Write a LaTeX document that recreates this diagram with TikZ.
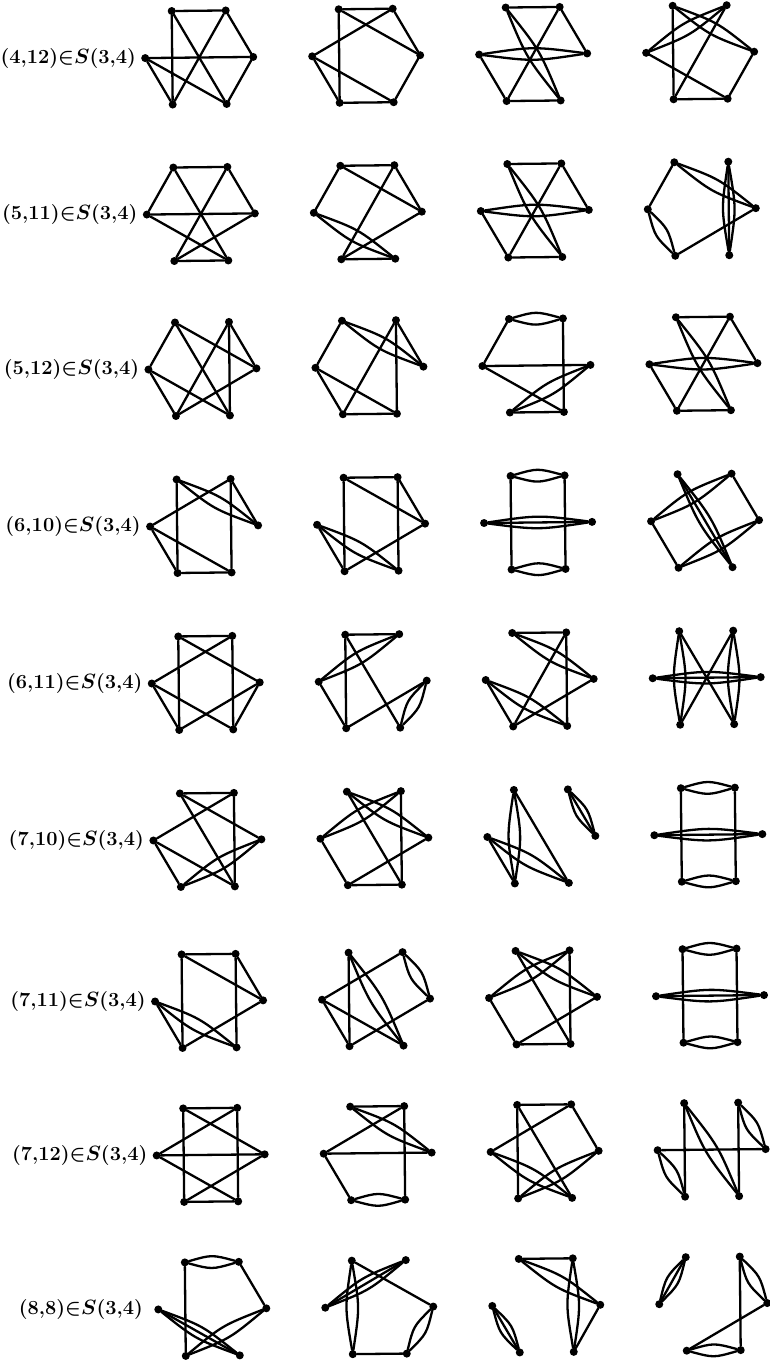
\documentclass[tikz,border=0pt]{standalone}
\usepackage{fontspec}
\usetikzlibrary{calc, positioning}

% corners of one hexagon: a top left, then clockwise b, c, d, e, f
\newcommand{\hexverts}[3]{%
  \foreach \vx/\ang in {a/120,b/60,c/0,d/-60,e/-120,f/180}
    \node[vtx] (#1\vx) at ($(#2,#3)+(\ang:54)$) {};}
% single edges, double edges (lens), triple edges (lens and line)
\newcommand{\plain}[2]{\foreach \p/\q in {#2} \draw[edge] (#1\p) -- (#1\q);}
\newcommand{\dbl}[3]{%
  \draw[edge] (#1#2) .. controls ($(#1#2)!0.5!(#1#3)!7.5pt!90:(#1#3)$) .. (#1#3);
  \draw[edge] (#1#2) .. controls ($(#1#2)!0.5!(#1#3)!7.5pt!-90:(#1#3)$) .. (#1#3);}
\newcommand{\tpl}[3]{\dbl{#1}{#2}{#3}\draw[edge] (#1#2) -- (#1#3);}

\begin{document}
\begin{tikzpicture}[
    x=1pt, y=1pt,
    vtx/.style={circle, fill=black, inner sep=0pt, minimum size=8pt},
    edge/.style={line width=2.3pt, line cap=round},
    lbl/.style={font=\fontsize{20}{24}\selectfont\boldmath\bfseries, inner sep=0pt}
]
\useasboundingbox (0,0) rectangle (769,-1363);

\begin{scope}[rotate around={0.6:(199.2,-57.5)}]

% Nodes
\foreach \rowy [count=\row] in {57.5,214,369,526,683,840,1001,1155,1309} {
  \foreach \col in {1,...,4} {
    \pgfmathsetmacro{\gx}{199.2+167*(\col-1)}
    \hexverts{r\row c\col}{\gx}{-\rowy}
  }
}

% Row labels
\node[lbl, left=5pt of r1c1f] (lab1) {(4,12)${\in}S$(3,4)};
\node[lbl, left=5pt of r2c1f] (lab2) {(5,11)${\in}S$(3,4)};
\node[lbl, left=5pt of r3c1f] (lab3) {(5,12)${\in}S$(3,4)};
\node[lbl, left=5pt of r4c1f] (lab4) {(6,10)${\in}S$(3,4)};
\node[lbl, left=5pt of r5c1f] (lab5) {(6,11)${\in}S$(3,4)};
\node[lbl, left=5pt of r6c1f] (lab6) {(7,10)${\in}S$(3,4)};
\node[lbl, left=5pt of r7c1f] (lab7) {(7,11)${\in}S$(3,4)};
\node[lbl, left=5pt of r8c1f] (lab8) {(7,12)${\in}S$(3,4)};
\node[lbl, left=11pt of r9c1f] (lab9) {(8,8)${\in}S$(3,4)};

% Edges, row (4,12)
\plain{r1c1}{a/b,a/e,a/d,b/c,b/e,f/c,f/e,f/d,c/d}
\plain{r1c2}{a/b,a/e,a/c,b/f,b/c,f/e,f/d,e/d,c/d}
\plain{r1c3}{a/b,e/d,b/c,f/e,b/e} \dbl{r1c3}{f}{c} \dbl{r1c3}{a}{d}
\plain{r1c4}{a/e,b/e,f/d,c/d,e/d} \dbl{r1c4}{a}{c} \dbl{r1c4}{b}{f}

% Edges, row (5,11)
\plain{r2c1}{a/b,a/f,b/c,f/c,a/d,b/e,f/d,c/e,e/d}
\plain{r2c2}{a/b,a/f,a/c,b/c,b/e,e/d,c/e} \dbl{r2c2}{f}{d}
\plain{r2c3}{a/b,e/d,b/c,f/e,b/e} \dbl{r2c3}{f}{c} \dbl{r2c3}{a}{d}
\plain{r2c4}{a/f,e/c} \dbl{r2c4}{a}{c} \dbl{r2c4}{f}{e} \tpl{r2c4}{b}{d}

% Edges, row (5,12)
\plain{r3c1}{a/f,a/c,a/d,b/e,b/d,b/c,f/d,f/e,e/c}
\plain{r3c2}{a/f,b/c,b/d,b/e,f/d,f/e,e/d} \dbl{r3c2}{a}{c}
\plain{r3c3}{a/f,b/d,f/c,f/d,e/d} \dbl{r3c3}{a}{b} \dbl{r3c3}{c}{e}
\plain{r3c4}{a/b,e/d,b/c,f/e,b/e} \dbl{r3c4}{f}{c} \dbl{r3c4}{a}{d}

% Edges, row (6,10)
\plain{r4c1}{a/e,b/d,b/f,b/c,f/e,f/d,e/d} \dbl{r4c1}{a}{c}
\plain{r4c2}{a/b,a/e,a/c,b/d,b/c,f/e,c/e} \dbl{r4c2}{f}{d}
\plain{r4c3}{a/e,b/d} \dbl{r4c3}{a}{b} \dbl{r4c3}{e}{d} \tpl{r4c3}{f}{c}
\plain{r4c4}{b/c,f/e} \tpl{r4c4}{a}{d} \dbl{r4c4}{b}{f} \dbl{r4c4}{c}{e}

% Edges, row (6,11)
\plain{r5c1}{a/b,a/e,a/c,b/f,b/d,f/e,f/d,c/e,c/d}
\plain{r5c2}{a/b,a/e,a/d,c/e,f/e} \dbl{r5c2}{b}{f} \dbl{r5c2}{c}{d}
\plain{r5c3}{a/b,b/d,b/e,f/e,c/e} \dbl{r5c3}{a}{c} \dbl{r5c3}{f}{d}
\plain{r5c4}{a/d,b/e} \tpl{r5c4}{f}{c} \dbl{r5c4}{a}{e} \dbl{r5c4}{b}{d}

% Edges, row (7,10)
\plain{r6c1}{a/b,a/d,a/c,b/f,b/d,f/d,f/e} \dbl{r6c1}{c}{e}
\plain{r6c2}{a/d,b/d,f/e,e/d,e/c} \dbl{r6c2}{a}{c} \dbl{r6c2}{b}{f}
\plain{r6c3}{a/d,f/e} \tpl{r6c3}{b}{c} \dbl{r6c3}{a}{e} \dbl{r6c3}{f}{d}
\plain{r6c4}{a/e,b/d} \dbl{r6c4}{a}{b} \dbl{r6c4}{e}{d} \tpl{r6c4}{f}{c}

% Edges, row (7,11)
\plain{r7c1}{a/b,a/e,a/c,b/c,b/d,f/e,e/c} \dbl{r7c1}{f}{d}
\plain{r7c2}{a/e,b/f,f/e,f/d,e/c} \dbl{r7c2}{a}{d} \dbl{r7c2}{b}{c}
\plain{r7c3}{a/d,b/d,f/e,e/d,e/c} \dbl{r7c3}{a}{c} \dbl{r7c3}{b}{f}
\plain{r7c4}{a/e,b/d} \dbl{r7c4}{a}{b} \dbl{r7c4}{e}{d} \tpl{r7c4}{f}{c}

% Edges, row (7,12)
\plain{r8c1}{a/b,a/e,b/d,a/c,b/f,f/c,f/d,c/e,e/d}
\plain{r8c2}{a/b,b/f,b/d,f/c,f/e} \dbl{r8c2}{a}{c} \dbl{r8c2}{e}{d}
\plain{r8c3}{a/b,a/e,a/d,b/f,b/c} \dbl{r8c3}{f}{d} \dbl{r8c3}{c}{e}
\plain{r8c4}{a/e,b/d,f/c} \dbl{r8c4}{a}{d} \dbl{r8c4}{b}{c} \dbl{r8c4}{f}{e}

% Edges, row (8,8)
\plain{r9c1}{a/e,b/c} \dbl{r9c1}{a}{b} \tpl{r9c1}{f}{d} \dbl{r9c1}{c}{e}
\plain{r9c2}{a/c,e/d} \dbl{r9c2}{a}{e} \tpl{r9c2}{b}{f} \dbl{r9c2}{c}{d}
\plain{r9c3}{a/b,c/d} \tpl{r9c3}{f}{e} \dbl{r9c3}{a}{c} \dbl{r9c3}{b}{d}
\plain{r9c4}{b/d,c/e} \tpl{r9c4}{a}{f} \dbl{r9c4}{b}{c} \dbl{r9c4}{e}{d}

\end{scope}
\end{tikzpicture}
\end{document}
